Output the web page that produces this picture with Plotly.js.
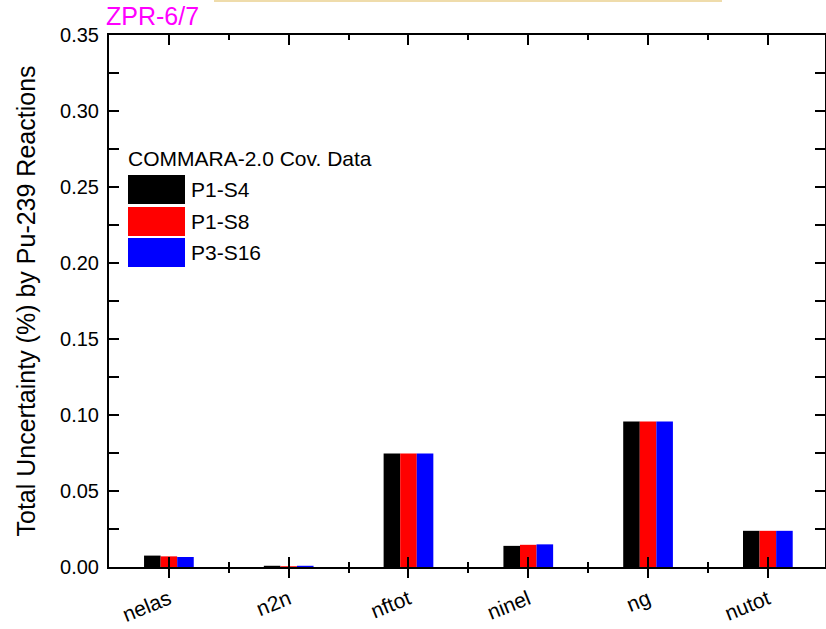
<!DOCTYPE html>
<html>
<head>
<meta charset="utf-8">
<script src="https://cdn.plot.ly/plotly-3.0.1.min.js"></script>
<style>
  html, body { margin: 0; padding: 0; background: #fff; }
  #chart { width: 826px; height: 629px; }
</style>
</head>
<body>
<div id="chart"></div>
<script>
// Pu-239 reaction contributions to total uncertainty (%), ZPR-6/7
const reactions = ['nelas', 'n2n', 'nftot', 'ninel', 'ng', 'nutot'];
const seriesNames = ['P1-S4', 'P1-S8', 'P3-S16'];
const seriesColors = ['#000000', '#ff0000', '#0000ff'];
const p1s4  = [0.0075, 0.0008, 0.0747, 0.0139, 0.0957, 0.0238];
const p1s8  = [0.0070, 0.0005, 0.0747, 0.0146, 0.0957, 0.0238];
const p3s16 = [0.0066, 0.0008, 0.0747, 0.0149, 0.0957, 0.0238];
const yTicks = [0, 0.05, 0.10, 0.15, 0.20, 0.25, 0.30, 0.35];

const FONT = 'Arial, "Liberation Sans", sans-serif';
const xIdx = reactions.map((_, i) => i);
const allSeries = [p1s4, p1s8, p3s16];

const traces = allSeries.map((vals, k) => ({
  type: 'bar',
  x: xIdx,
  y: vals,
  name: seriesNames[k],
  marker: { color: seriesColors[k], line: { width: 0 } },
  xaxis: 'x',
  yaxis: 'y',
  hoverinfo: 'x+y+name'
}));

// invisible trace so the outward tick overlay axis gets drawn
traces.push({
  type: 'scatter', x: [0], y: [0], xaxis: 'x2', yaxis: 'y',
  mode: 'markers', marker: { opacity: 0 }, showlegend: false, hoverinfo: 'skip'
});

const xRange = [-0.5, 5.477];

// custom legend: big swatches plus labels, in paper coordinates
const W = 716, H = 532;           // plot area size in px
const px = v => v / W, py = v => v / H;
const legendShapes = [];
const legendAnn = [];
const swTop = [175, 207, 238];
seriesNames.forEach((nm, k) => {
  const y0 = 567 - swTop[k] - 29, y1 = 567 - swTop[k];
  legendShapes.push({
    type: 'rect', xref: 'paper', yref: 'paper',
    x0: px(128 - 109), x1: px(185 - 109), y0: py(y0), y1: py(y1),
    fillcolor: seriesColors[k], line: { width: 0 }, layer: 'above'
  });
  legendAnn.push({
    xref: 'paper', yref: 'paper', x: px(189 - 109), y: py((y0 + y1) / 2),
    xanchor: 'left', yanchor: 'middle', showarrow: false, text: nm,
    font: { family: FONT, size: 21, color: '#000' }
  });
});
legendAnn.push({
  xref: 'paper', yref: 'paper', x: px(126 - 109), y: py(567 - 158),
  xanchor: 'left', yanchor: 'middle', showarrow: false,
  text: 'COMMARA-2.0 Cov. Data',
  font: { family: FONT, size: 21, color: '#000' }
});
legendAnn.push({
  xref: 'paper', yref: 'paper', x: px(104 - 109), y: py(567 - 32),
  xanchor: 'left', yanchor: 'bottom', showarrow: false, text: 'ZPR-6/7',
  font: { family: FONT, size: 25, color: '#ff00ff' }
});

// thin tan strip along the very top edge
legendShapes.push({
  type: 'rect', xref: 'paper', yref: 'paper',
  x0: px(214 - 109), x1: px(722 - 109), y0: py(567 - 2), y1: py(567 + 1),
  fillcolor: '#efdcab', line: { width: 0 }, layer: 'above'
});

const layout = {
  width: 826, height: 629,
  margin: { l: 109, r: 1, t: 35, b: 62 },
  paper_bgcolor: '#fff', plot_bgcolor: '#fff',
  barmode: 'group', bargap: 0.585, bargroupgap: 0,
  showlegend: false,
  font: { family: FONT, color: '#000' },
  xaxis: {
    type: 'linear', range: xRange,
    tickmode: 'array', tickvals: xIdx, ticktext: reactions,
    tickangle: -22,
    ticks: 'inside', ticklen: 10, tickwidth: 2, tickcolor: '#000',
    minor: { tickmode: 'array', tickvals: xIdx.map(i => i + 0.5),
             ticks: 'inside', ticklen: 5, tickwidth: 2, tickcolor: '#000' },
    showline: true, linewidth: 2, linecolor: '#000', mirror: 'allticks',
    showgrid: false, zeroline: false,
    tickfont: { family: FONT, size: 21, color: '#000' },
    ticklabelstandoff: 10
  },
  xaxis2: {
    type: 'linear', range: xRange, overlaying: 'x', anchor: 'y', side: 'bottom',
    tickmode: 'array', tickvals: xIdx, showticklabels: false,
    ticks: 'outside', ticklen: 10, tickwidth: 2, tickcolor: '#000',
    minor: { tickmode: 'array', tickvals: xIdx.map(i => i + 0.5),
             ticks: 'outside', ticklen: 5, tickwidth: 2, tickcolor: '#000' },
    showline: false, showgrid: false, zeroline: false
  },
  yaxis: {
    range: [0, 0.35], tickmode: 'array', tickvals: yTicks,
    tickformat: '.2f',
    ticks: 'inside', ticklen: 10, tickwidth: 2, tickcolor: '#000',
    minor: { dtick: 0.025, tick0: 0, ticks: 'inside', ticklen: 5, tickwidth: 2, tickcolor: '#000' },
    showline: true, linewidth: 2, linecolor: '#000', mirror: 'allticks',
    showgrid: false, zeroline: false,
    tickfont: { family: FONT, size: 20, color: '#000' },
    ticklabelstandoff: 4,
    title: { text: 'Total Uncertainty (%) by Pu-239 Reactions',
             font: { family: FONT, size: 25, color: '#000' }, standoff: 17 }
  },
  shapes: legendShapes,
  annotations: legendAnn
};

Plotly.newPlot('chart', traces, layout, { staticPlot: true, displayModeBar: false });
</script>
</body>
</html>
